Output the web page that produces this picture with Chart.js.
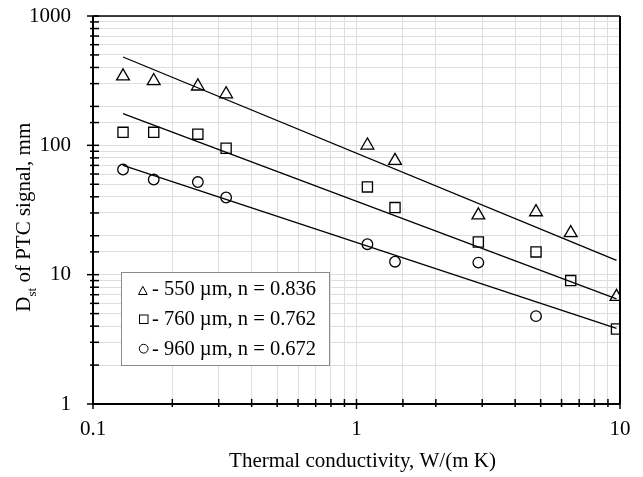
<!DOCTYPE html>
<html>
<head>
<meta charset="utf-8">
<script src="https://cdn.jsdelivr.net/npm/chart.js@4.4.1/dist/chart.umd.min.js"></script>
<style>
  html, body { margin: 0; padding: 0; background: #fff; }
</style>
</head>
<body>
<canvas id="grafica" width="643" height="477"></canvas>
<script>
// Thermal conductivity, W/(m K)
const conductividad = [0.13, 0.17, 0.25, 0.32, 1.1, 1.4, 2.9, 4.8, 6.5, 9.7];
// Dst of PTC signal, mm
const d550 = [342, 315, 286, 249, 100, 76, 28.8, 30.5, 21, 6.75];
const d760 = [126, 126, 122, 95, 47.7, 33, 17.9, 15, 9.0, 3.8];
const d960 = [65, 54.4, 52, 39.5, 17.2, 12.6, 12.4, 4.78];
// fit lines, end points
const ajusteX = [0.13, 9.7];
const ajuste550 = [482, 12.9];
const ajuste760 = [176, 6.5];
const ajuste960 = [70, 3.85];
// legend and tick labels
const etiquetas = ['- 550 µm, n = 0.836', '- 760 µm, n = 0.762', '- 960 µm, n = 0.672'];
const xTicks = [0.1, 1, 10];
const yTicks = [1, 10, 100, 1000];

const fuente = 'Liberation Serif, Times New Roman, serif';

function puntos(xs, ys) {
    return ys.map((v, i) => ({ x: xs[i], y: v }));
}

function esMayor(v) {
    const l = Math.log10(v);
    return Math.abs(l - Math.round(l)) < 1e-6;
}

function etiqueta(lista) {
    return function (v) {
        const t = lista.find(t => Math.abs(t - v) / t < 1e-6);
        return t === undefined ? '' : String(t);
    };
}

// frame, ticks across the axes, legend box and axis titles
const marco = {
    id: 'marco',
    afterDraw(chart) {
        const ctx = chart.ctx;
        const a = chart.chartArea;
        const sx = chart.scales.x;
        const sy = chart.scales.y;
        ctx.save();
        ctx.strokeStyle = '#000';

        ctx.lineWidth = 1.5;
        ctx.beginPath();
        ctx.moveTo(a.left, a.top);
        ctx.lineTo(a.right, a.top);
        ctx.stroke();
        ctx.lineWidth = 2;
        ctx.beginPath();
        ctx.moveTo(a.right, a.top);
        ctx.lineTo(a.right, a.bottom);
        ctx.moveTo(a.left, a.top);
        ctx.lineTo(a.left, a.bottom);
        ctx.lineTo(a.right, a.bottom);
        ctx.stroke();

        ctx.lineWidth = 1.5;
        sx.ticks.forEach(t => {
            const px = sx.getPixelForValue(t.value);
            const fuera = esMayor(t.value) ? 5 : 3;
            ctx.beginPath();
            ctx.moveTo(px, a.bottom + fuera);
            ctx.lineTo(px, a.bottom - 5);
            ctx.stroke();
        });
        sy.ticks.forEach(t => {
            const py = sy.getPixelForValue(t.value);
            const fuera = esMayor(t.value) ? 6 : 3;
            ctx.beginPath();
            ctx.moveTo(a.left - fuera, py);
            ctx.lineTo(a.left + 6, py);
            ctx.stroke();
        });

        // legend
        ctx.fillStyle = '#fff';
        ctx.fillRect(121, 272, 208, 94);
        ctx.strokeStyle = '#8c8c8c';
        ctx.lineWidth = 1;
        ctx.strokeRect(121.5, 272.5, 208, 93);

        ctx.strokeStyle = '#000';
        ctx.lineWidth = 1;
        ctx.beginPath();
        ctx.moveTo(138.5, 294.5);
        ctx.lineTo(147.2, 294.5);
        ctx.lineTo(142.8, 286.3);
        ctx.closePath();
        ctx.stroke();
        ctx.strokeRect(139.5, 315, 8.5, 8.5);
        ctx.beginPath();
        ctx.arc(143.7, 348.7, 4.4, 0, Math.PI * 2);
        ctx.stroke();

        ctx.fillStyle = '#000';
        ctx.font = '20.5px ' + fuente;
        ctx.textAlign = 'left';
        ctx.textBaseline = 'alphabetic';
        etiquetas.forEach((txt, i) => {
            ctx.fillText(txt, 152, 295 + i * 30);
        });

        // x title
        ctx.font = '21px ' + fuente;
        ctx.textAlign = 'center';
        ctx.fillText('Thermal conductivity, W/(m K)', 362.5, 467);

        // y title with subscript
        ctx.translate(30, 311.7);
        ctx.rotate(-Math.PI / 2);
        ctx.textAlign = 'left';
        ctx.font = '21px ' + fuente;
        const wD = ctx.measureText('D').width;
        ctx.fillText('D', 0, 0);
        ctx.font = '13px ' + fuente;
        const wSt = ctx.measureText('st').width;
        ctx.fillText('st', wD, 6);
        ctx.font = '21px ' + fuente;
        ctx.fillText(' of PTC signal, mm', wD + wSt, 0);

        ctx.restore();
    }
};

const ctx = document.getElementById('grafica').getContext('2d');
new Chart(ctx, {
    type: 'scatter',
    data: {
        datasets: [
            { data: puntos(conductividad, d550), pointStyle: 'triangle', pointRadius: 7.4, borderColor: '#000', backgroundColor: 'rgba(0,0,0,0)', borderWidth: 1.3 },
            { data: puntos(conductividad, d760), pointStyle: 'rect', pointRadius: 7.2, borderColor: '#000', backgroundColor: 'rgba(0,0,0,0)', borderWidth: 1.3 },
            { data: puntos(conductividad, d960), pointStyle: 'circle', pointRadius: 5.3, borderColor: '#000', backgroundColor: 'rgba(0,0,0,0)', borderWidth: 1.3 },
            { data: puntos(ajusteX, ajuste550), showLine: true, pointRadius: 0, borderColor: '#000', borderWidth: 1.3, fill: false },
            { data: puntos(ajusteX, ajuste760), showLine: true, pointRadius: 0, borderColor: '#000', borderWidth: 1.3, fill: false },
            { data: puntos(ajusteX, ajuste960), showLine: true, pointRadius: 0, borderColor: '#000', borderWidth: 1.3, fill: false }
        ]
    },
    options: {
        responsive: false,
        animation: false,
        layout: { padding: { left: 0, right: 23, top: 16, bottom: 0 } },
        plugins: {
            legend: { display: false },
            tooltip: { enabled: false }
        },
        scales: {
            x: {
                type: 'logarithmic',
                min: 0.1,
                max: 10,
                afterFit: s => { s.height = 73; s.paddingLeft = 0; s.paddingRight = 0; },
                grid: { color: '#dedede', drawTicks: false },
                border: { display: false },
                ticks: {
                    autoSkip: false,
                    maxRotation: 0,
                    padding: 13,
                    color: '#000',
                    font: { family: fuente, size: 21 },
                    callback: etiqueta(xTicks)
                }
            },
            y: {
                type: 'logarithmic',
                min: 1,
                max: 1000,
                afterFit: s => { s.width = 93; s.paddingTop = 0; s.paddingBottom = 0; },
                grid: { color: '#dedede', drawTicks: false },
                border: { display: false },
                ticks: {
                    autoSkip: false,
                    padding: 22,
                    color: '#000',
                    font: { family: fuente, size: 21 },
                    callback: etiqueta(yTicks)
                }
            }
        }
    },
    plugins: [marco]
});
</script>
</body>
</html>
